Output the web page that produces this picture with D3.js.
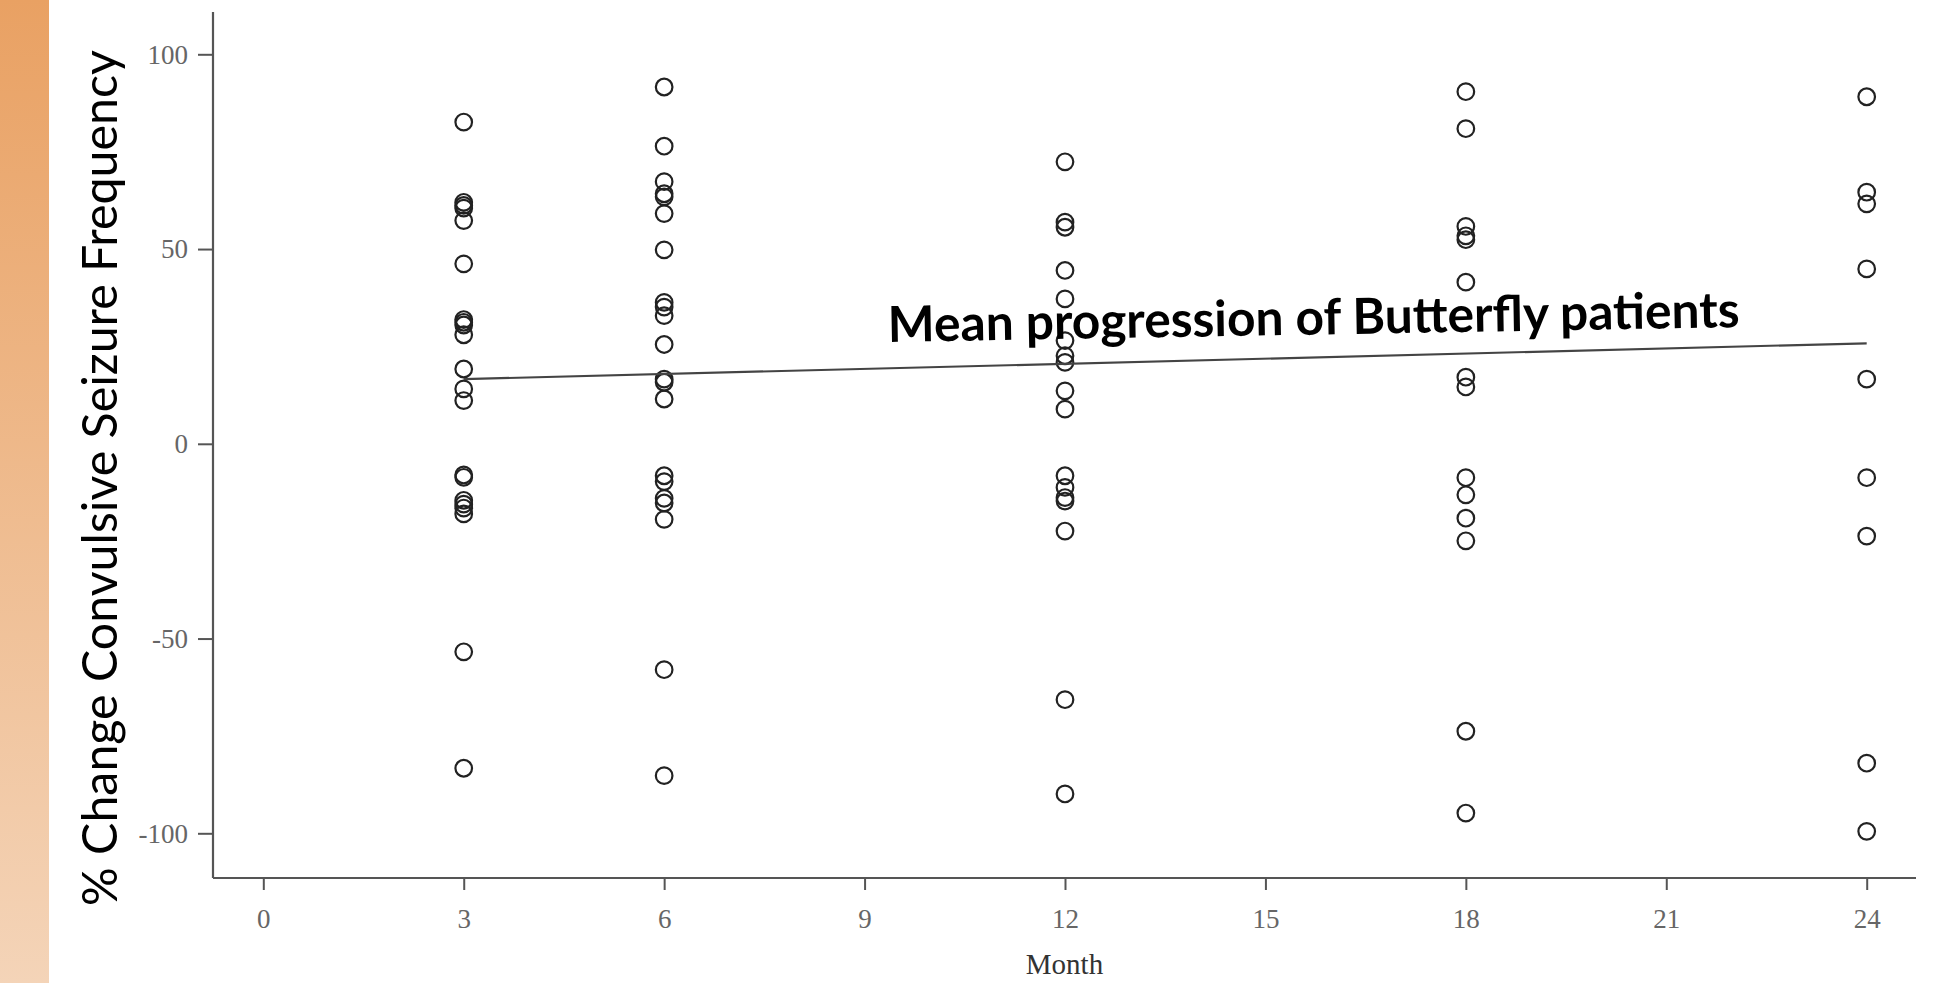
<!DOCTYPE html>
<html>
<head>
<meta charset="utf-8">
<script src="https://cdn.jsdelivr.net/npm/d3@7"></script>
<style>
  html, body { margin: 0; padding: 0; background: #fff; }
  svg { display: block; }
</style>
</head>
<body>
<div id="chart"></div>
<script>
const months = [3, 6, 12, 18, 24];
const month3 = [82.6, 62, 61.2, 60.5, 57.3, 46.2, 31.9, 31.2, 30.5, 28, 19.2, 14.1, 11.1, -8.0, -8.6, -14.5, -15.5, -16.5, -18, -53.4, -83.3];
const month6 = [91.6, 76.4, 67.3, 64.2, 63.4, 59.1, 49.8, 36.3, 35.1, 32.9, 25.5, 16.6, 15.8, 11.5, -8.2, -9.7, -14, -15.2, -19.4, -58, -85.2];
const month12 = [72.4, 56.9, 55.6, 44.5, 37.2, 26.5, 22.6, 20.9, 13.6, 8.9, -8.2, -11.2, -13.8, -14.7, -22.4, -65.7, -89.9];
const month18 = [90.4, 80.9, 55.8, 53.4, 52.4, 41.5, 17.1, 14.6, -8.7, -13.1, -19.1, -24.9, -73.8, -94.8];
const month24 = [89.1, 64.6, 61.6, 44.9, 16.6, -8.7, -23.7, -82, -99.5];
const valuesByMonth = [month3, month6, month12, month18, month24];

// mean progression line (end points)
const meanMonths = [3, 24];
const meanValues = [16.6, 25.8];

const xTicks = [0, 3, 6, 9, 12, 15, 18, 21, 24];
const yTicks = [-100, -50, 0, 50, 100];

const yTitle = "% Change Convulsive Seizure Frequency";
const xTitle = "Month";
const annotation = "Mean progression of Butterfly patients";

const width = 1945;
const height = 983;

// plot frame
const axisLeft = 213;
const axisRight = 1916;
const axisTop = 12;
const axisBottom = 878;

const x = d3.scaleLinear().domain([0, 24]).range([263.3, 1866.7]);
const y = d3.scaleLinear().domain([-100, 100]).range([833.3, 54.3]);

const svg = d3.select("#chart")
    .append("svg")
    .attr("width", width)
    .attr("height", height)
    .style("background-color", "#ffffff");

// orange side band
const defs = svg.append("defs");
const grad = defs.append("linearGradient")
    .attr("id", "band")
    .attr("x1", 0).attr("y1", 0)
    .attr("x2", 0).attr("y2", 1);
grad.append("stop").attr("offset", "0%").attr("stop-color", "#e9a163");
grad.append("stop").attr("offset", "100%").attr("stop-color", "#f4d4b8");

svg.append("rect")
    .attr("x", 0)
    .attr("y", 0)
    .attr("width", 49)
    .attr("height", height)
    .attr("fill", "url(#band)");

const plainNum = (d) => String(d); // hyphen minus, like the original

// y axis
const yAxis = svg.append("g")
    .attr("transform", `translate(${axisLeft},0)`)
    .call(d3.axisLeft(y).tickValues(yTicks).tickSize(15).tickPadding(10).tickFormat(plainNum));
yAxis.select(".domain").remove();
yAxis.selectAll("line").attr("stroke", "#555").attr("stroke-width", 2);
yAxis.selectAll("text")
    .attr("font-family", "'Liberation Serif', 'Times New Roman', serif")
    .attr("font-size", "27px")
    .attr("fill", "#666")
    .attr("dy", "0.33em");

// x axis
const xAxis = svg.append("g")
    .attr("transform", `translate(0,${axisBottom})`)
    .call(d3.axisBottom(x).tickValues(xTicks).tickSize(12).tickPadding(0).tickFormat(plainNum));
xAxis.select(".domain").remove();
xAxis.selectAll("line").attr("stroke", "#555").attr("stroke-width", 2);
xAxis.selectAll("text")
    .attr("font-family", "'Liberation Serif', 'Times New Roman', serif")
    .attr("font-size", "27px")
    .attr("fill", "#666")
    .attr("y", 50)
    .attr("dy", 0);

// axis lines
svg.append("line")
    .attr("x1", axisLeft).attr("x2", axisLeft)
    .attr("y1", axisTop).attr("y2", axisBottom)
    .attr("stroke", "#555").attr("stroke-width", 2.2);
svg.append("line")
    .attr("x1", axisLeft).attr("x2", axisRight)
    .attr("y1", axisBottom).attr("y2", axisBottom)
    .attr("stroke", "#555").attr("stroke-width", 2.2);

// points
const points = [];
months.forEach((m, i) => {
    valuesByMonth[i].forEach((v) => points.push({ month: m, value: v }));
});

svg.append("g")
    .selectAll("circle")
    .data(points)
    .join("circle")
    .attr("cx", (d) => x(d.month))
    .attr("cy", (d) => y(d.value))
    .attr("r", 8.3)
    .attr("fill", "none")
    .attr("stroke", "#222")
    .attr("stroke-width", 2.2);

// mean progression line
const meanData = meanMonths.map((m, i) => ({ month: m, value: meanValues[i] }));
svg.append("path")
    .datum(meanData)
    .attr("d", d3.line().x((d) => x(d.month)).y((d) => y(d.value)))
    .attr("fill", "none")
    .attr("stroke", "#444")
    .attr("stroke-width", 2.2);

// fit a text element to a target length by adjusting its font size
function fitText(sel, target) {
    const len = sel.node().getComputedTextLength();
    const size = parseFloat(sel.attr("font-size"));
    sel.attr("font-size", (size * target / len).toFixed(2) + "px");
}

// annotation
const ann = svg.append("text")
    .attr("transform", "translate(888,342) rotate(-1.0)")
    .attr("font-family", "Lato, 'Open Sans', sans-serif")
    .attr("font-weight", 700)
    .attr("font-size", "42px")
    .attr("fill", "#000")
    .text(annotation);
fitText(ann, 852);

// y title
const yt = svg.append("text")
    .attr("transform", "translate(117,906) rotate(-90)")
    .attr("font-family", "Lato, 'Open Sans', sans-serif")
    .attr("font-size", "46px")
    .attr("fill", "#000")
    .text(yTitle);
fitText(yt, 856);

// x title
svg.append("text")
    .attr("x", (axisLeft + axisRight) / 2)
    .attr("y", 974)
    .attr("text-anchor", "middle")
    .attr("font-family", "'Liberation Serif', 'Times New Roman', serif")
    .attr("font-size", "29px")
    .attr("fill", "#333")
    .text(xTitle);
</script>
</body>
</html>
